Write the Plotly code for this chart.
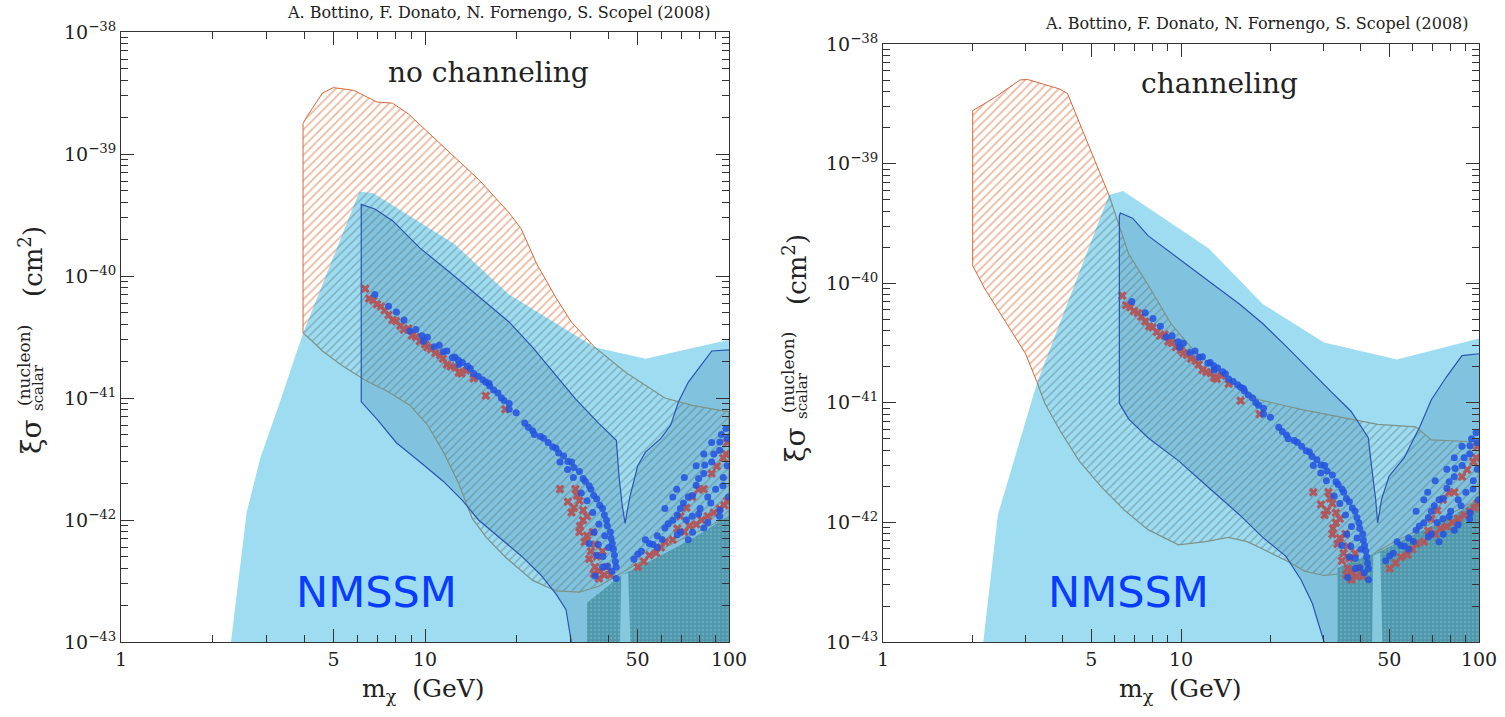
import plotly.graph_objects as go

W, H = 1505, 717

# ---------------- data: left panel (no channeling) ----------------
lb_l_m = [2.30, 2.59, 2.87, 3.32, 3.97, 6.08, 6.75, 12.5, 18.9, 36.2, 53.1, 100, 100]
lb_l_s = [1e-43, 1.15e-42, 3.2e-42, 9.0e-42, 3.4e-41, 4.9e-40, 4.8e-40, 1.83e-40, 7.05e-41, 2.6e-41, 2.1e-41, 3.0e-41, 1e-43]

orange_l_m = [3.97, 3.97, 4.09, 4.60, 4.99, 5.82, 6.95, 7.82, 8.80, 10.5, 12.2, 15.0, 18.9, 20.7, 23.3, 27.0, 30.3, 36.2, 18.9, 12.5, 6.75, 6.08]
orange_l_s = [3.4e-41, 1.78e-39, 2.03e-39, 3.16e-39, 3.5e-39, 3.33e-39, 2.67e-39, 2.61e-39, 2.14e-39, 1.43e-39, 1.0e-39, 6.2e-40, 3.3e-40, 2.45e-40, 1.26e-40, 6.6e-41, 4.2e-41, 2.6e-41, 7.05e-41, 1.83e-40, 4.8e-40, 4.9e-40]

grey_l_m = [3.97, 6.08, 6.75, 12.5, 18.9, 36.2, 45.8, 61.5, 75.7, 100, 100, 61.5, 44.5, 37.3, 32.2, 27.0, 22.6, 18.4, 15.9, 14.3, 12.9, 11.5, 10.2, 8.93, 7.59, 6.36, 5.33, 4.6, 4.21]
grey_l_s = [3.4e-41, 4.9e-40, 4.8e-40, 1.83e-40, 7.05e-41, 2.6e-41, 1.62e-41, 1.0e-41, 8.7e-42, 7.7e-42, 1.07e-42, 5.96e-43, 3.7e-43, 2.86e-43, 2.56e-43, 2.62e-43, 3.2e-43, 4.95e-43, 7.2e-43, 1.03e-42, 2.0e-42, 3.6e-42, 6.0e-42, 8.7e-42, 1.12e-41, 1.4e-41, 1.85e-41, 2.43e-41, 3.0e-41]

outline_l_m = [6.17, 6.84, 7.82, 9.61, 12.2, 15.4, 18.9, 22.6, 27.0, 31.3, 37.3, 42.6, 43.5, 44.5, 45.5, 47.2, 50.1, 53.1, 59.7, 64.3,
               68.2, 73.5, 80.3, 87.8, 100, 100, 30.3, 29.1, 27.0, 24.0, 20.7, 17.3, 15.0, 13.3, 11.5, 9.61, 8.05, 6.95, 6.17]
outline_l_s = [3.86e-40, 3.54e-40, 2.84e-40, 1.70e-40, 1.05e-40, 6.5e-41, 4.2e-41, 2.6e-41, 1.51e-41, 9.8e-42, 6.2e-42, 4.5e-42, 2.24e-42,
               1.34e-42, 9.4e-43, 1.55e-42, 2.78e-42, 3.6e-42, 4.66e-42, 6.0e-42, 9.3e-42, 1.35e-41, 1.81e-41, 2.43e-41, 2.48e-41,
               1e-43, 1e-43, 1.84e-43, 2.47e-43, 3.56e-43, 5.1e-43, 7.4e-43, 1.0e-42, 1.44e-42, 2.07e-42, 3.0e-42, 4.3e-42, 6.7e-42, 9.3e-42]

teal_l_m = [34.1, 34.1, 38.4, 44.5, 53.1, 67.3, 82.7, 100, 100]
teal_l_s = [1e-43, 2.1e-43, 2.65e-43, 3.56e-43, 4.4e-43, 6.0e-43, 8.0e-43, 1.09e-42, 1e-43]

gap_l_m = [43.8, 44.2, 46.6, 47.4]
gap_l_s = [1e-43, 3.5e-43, 3.7e-43, 1e-43]

# ---------------- data: right panel (channeling) ----------------
lb_r_m = [2.17, 2.43, 2.75, 3.29, 5.73, 6.39, 12.4, 18.8, 30.2, 53.0, 100, 100]
lb_r_s = [1e-43, 1.16e-42, 3.27e-42, 1.48e-41, 5.47e-40, 5.9e-40, 1.95e-40, 6.7e-41, 3.2e-41, 2.3e-41, 3.45e-41, 1e-43]

orange_r_m = [3.29, 5.73, 5.36, 4.90, 4.55, 4.16, 3.92, 3.05, 2.88, 2.37, 2.00, 2.00, 2.20, 2.59, 3.01]
orange_r_s = [1.48e-41, 5.47e-40, 8.2e-40, 1.42e-39, 2.29e-39, 3.85e-39, 4.2e-39, 5.06e-39, 5.0e-39, 3.57e-39, 2.77e-39, 1.40e-40, 8.9e-41, 4.6e-41, 2.57e-41]

grey_r_m = [3.29, 5.73, 6.68, 7.75, 9.25, 11.0, 14.0, 18.3, 25.3, 37.2, 45.7, 61.4, 69.2, 100, 100, 49.9, 34.0, 30.2, 26.1, 22.5,
            18.8, 16.7, 14.4, 12.1, 9.8, 7.75, 6.49, 5.43, 4.55, 3.92, 3.49]
grey_r_s = [1.48e-41, 5.47e-40, 1.75e-40, 9.7e-41, 4.6e-41, 2.77e-41, 1.65e-41, 1.06e-41, 8.8e-42, 7.3e-42, 6.6e-42, 6.3e-42, 4.9e-42,
            4.7e-42, 1.56e-42, 6.5e-43, 3.7e-43, 3.6e-43, 3.9e-43, 4.8e-43, 6.0e-43, 6.9e-43, 7.5e-43, 6.9e-43, 6.5e-43, 8.7e-43,
            1.25e-42, 1.95e-42, 3.27e-42, 5.9e-42, 9.9e-42]

outline_r_m = [6.26, 6.88, 7.75, 9.82, 12.4, 15.7, 18.8, 22.5, 26.8, 32.0, 37.2, 42.5, 43.7, 45.0, 45.7, 47.1, 49.9, 56.2, 63.3, 69.2,
               77.8, 87.7, 100, 100, 30.2, 27.6, 25.3, 22.5, 18.8, 15.7, 12.4, 9.82, 7.75, 6.68, 6.21, 6.21]
outline_r_s = [3.86e-40, 3.5e-40, 2.5e-40, 1.62e-40, 1.04e-40, 6.7e-41, 4.6e-41, 2.98e-41, 1.91e-41, 1.23e-41, 8.5e-42, 5.1e-42, 2.8e-42,
               1.56e-42, 9.9e-43, 1.56e-42, 2.43e-42, 3.5e-42, 6.3e-42, 1.06e-41, 1.65e-41, 2.48e-41, 2.57e-41, 1e-43, 1e-43, 2.1e-43,
               3.3e-43, 5.2e-43, 7.5e-43, 1.16e-42, 1.95e-42, 3.27e-42, 5.1e-42, 7.3e-42, 9.9e-42, 3.65e-40]

teal_r_m = [33.5, 33.5, 38.3, 45.7, 51.5, 65.2, 82.6, 100, 100]
teal_r_s = [1e-43, 4.15e-43, 4.8e-43, 5.6e-43, 6.5e-43, 8.7e-43, 1.16e-42, 1.56e-42, 1e-43]

gap_r_m = [43.8, 44.2, 46.6, 47.4]
gap_r_s = [1e-43, 5.3e-43, 5.6e-43, 1e-43]

# ---------------- NMSSM scan points (same in both panels), log10 values ----------------
blue_log_m = [0.835, 0.880, 0.906, 0.931, 0.970, 1.008, 1.047, 1.072, 1.098, 1.123, 1.149, 1.175, 1.200, 1.226, 1.251, 1.277,
              1.328, 1.354, 1.380, 1.405, 1.431, 1.456, 1.482, 1.508, 1.527, 1.546, 1.565, 1.584, 1.597, 1.610, 1.616, 1.623,
              1.629, 1.604, 1.591, 1.572, 1.552, 1.533, 1.514, 1.488, 1.469, 1.444, 1.277, 1.213, 1.111, 0.995, 1.629, 1.584,
              1.565, 1.540,
              0.95, 0.99, 1.03, 1.06, 1.09, 1.11, 1.14, 1.16, 1.19, 1.21, 1.24, 1.26, 1.30, 1.34, 1.36, 1.39, 1.42, 1.44,
              1.47, 1.49, 1.52, 1.54, 1.555, 1.575, 1.59, 1.60, 1.612, 1.62, 1.626, 1.615, 1.60, 1.585, 1.57, 1.556, 1.56,
              1.687, 1.712, 1.738, 1.764, 1.789, 1.815, 1.840, 1.866, 1.892, 1.917, 1.943, 1.969, 1.994, 1.853, 1.892, 1.917,
              1.943, 1.975, 1.828, 1.879, 1.930, 1.981, 1.840, 1.905, 1.956, 1.994, 1.789, 1.815, 1.969, 1.917, 1.866, 1.998,
              1.764, 1.725,
              1.70, 1.75, 1.78, 1.80, 1.83, 1.85, 1.88, 1.90, 1.92, 1.95, 1.97, 1.99, 1.86, 1.90, 1.94, 1.98, 1.93, 1.97,
              1.88, 1.83]
blue_log_s = [-40.152, -40.248, -40.296, -40.360, -40.439, -40.503, -40.567, -40.615, -40.663, -40.710, -40.758, -40.822, -40.870,
              -40.934, -40.997, -41.045, -41.205, -41.269, -41.316, -41.364, -41.412, -41.476, -41.524, -41.603, -41.683, -41.747,
              -41.827, -41.906, -42.002, -42.098, -42.193, -42.289, -42.385, -42.225, -42.130, -42.034, -41.938, -41.843, -41.779,
              -41.651, -41.587, -41.524, -41.093, -40.902, -40.726, -40.535, -42.480, -42.385, -42.289, -42.193,
              -40.45, -40.49, -40.58, -40.62, -40.67, -40.69, -40.74, -40.80, -40.85, -40.88, -40.96, -41.02, -41.12, -41.24,
              -41.30, -41.33, -41.40, -41.45, -41.52, -41.57, -41.66, -41.72, -41.80, -41.88, -41.96, -42.05, -42.15, -42.24,
              -42.34, -42.42, -42.38, -42.30, -42.20, -42.10, -42.46,
              -42.321, -42.257, -42.193, -42.130, -42.066, -42.002, -41.906, -41.811, -41.715, -41.619, -41.524, -41.428, -41.332,
              -41.651, -41.556, -41.460, -41.364, -41.300, -41.747, -41.970, -41.811, -41.651, -42.098, -41.906, -41.747, -41.556,
              -41.906, -41.811, -41.970, -42.066, -42.161, -41.811, -42.225, -42.161,
              -42.28, -42.20, -42.16, -42.03, -41.96, -41.86, -41.80, -41.66, -41.55, -41.46, -41.36, -41.25, -42.00, -41.95,
              -41.86, -41.72, -42.02, -41.92, -42.10, -42.12]
red_log_m = [0.803, 0.816, 0.842, 0.867, 0.893, 0.919, 0.957, 0.983, 1.008, 1.034, 1.059, 1.085, 1.111, 1.136, 1.072, 1.200,
             1.264, 1.444, 1.482, 1.508, 1.520, 1.533, 1.546, 1.559, 1.572, 1.584, 1.597, 1.533, 1.508, 1.610, 1.552, 1.495,
             0.83, 0.855, 0.88, 0.905, 0.93, 0.945, 0.97, 1.00, 1.02, 1.05, 1.10, 1.12, 1.16, 1.47, 1.49, 1.51, 1.525, 1.54,
             1.555, 1.565, 1.575, 1.59, 1.52, 1.50, 1.56,
             1.700, 1.738, 1.776, 1.815, 1.853, 1.892, 1.930, 1.969, 1.994, 1.879, 1.943, 1.981, 1.840, 1.917, 1.994,
             1.72, 1.76, 1.79, 1.83, 1.87, 1.91, 1.95, 1.985, 1.90, 1.96, 1.99, 1.86]
red_log_s = [-40.105, -40.184, -40.232, -40.280, -40.360, -40.408, -40.487, -40.535, -40.583, -40.631, -40.679, -40.742, -40.790,
             -40.774, -40.726, -40.982, -41.093, -41.747, -41.938, -41.843, -42.002, -42.130, -42.257, -42.385, -42.480, -42.257,
             -42.385, -41.970, -42.098, -42.448, -42.098, -41.747,
             -40.20, -40.25, -40.32, -40.37, -40.44, -40.43, -40.50, -40.56, -40.60, -40.65, -40.75, -40.80, -40.84, -41.85,
             -41.90, -42.05, -42.18, -42.32, -42.44, -42.30, -42.42, -42.45, -41.92, -41.80, -42.20,
             -42.385, -42.289, -42.225, -42.161, -42.098, -42.034, -41.970, -41.906, -41.843, -41.811, -41.619, -41.492, -41.970,
             -41.747, -41.364,
             -42.34, -42.27, -42.18, -42.07, -42.05, -42.00, -41.94, -41.88, -41.75, -41.56, -41.46, -41.90]

# ---------------- axes ticks ----------------
x_tick_vals = [1, 5, 10, 50, 100]
x_tick_text = ["1", "5", "10", "50", "100"]
x_minor_vals = [2, 3, 4, 6, 7, 8, 9, 20, 30, 40, 60, 70, 80, 90]
y_exps = [-43, -42, -41, -40, -39, -38]
y_tick_vals = [10.0 ** e for e in y_exps]
y_tick_text = ["10<sup>\u2212%d</sup>" % (-e) for e in y_exps]
y_minor_vals = [k * 10.0 ** e for e in range(-43, -38) for k in range(2, 10)]

LIGHT = "#9edcf2"
OUTLINE_FILL = "rgba(45,125,170,0.26)"
OUTLINE_LINE = "#2a55b0"
TEAL = "#4f97ac"

fig = go.Figure()


def closed(a):
    return list(a) + [a[0]]


def poly(m, s, xa, ya, fillcolor=None, pattern=None):
    kw = dict(x=closed(m), y=closed(s), fill="toself", mode="lines", line=dict(width=0),
              xaxis=xa, yaxis=ya, hoverinfo="skip", showlegend=False)
    if pattern is not None:
        kw["fillpattern"] = pattern
        kw["fillcolor"] = pattern.get("bgcolor", "rgba(0,0,0,0)")
    else:
        kw["fillcolor"] = fillcolor
    fig.add_trace(go.Scatter(**kw))


def line(m, s, xa, ya, color, width=1.0):
    fig.add_trace(go.Scatter(x=m, y=s, mode="lines", line=dict(color=color, width=width),
                             xaxis=xa, yaxis=ya, hoverinfo="skip", showlegend=False))


panels = [
    dict(xa="x", ya="y", lb=(lb_l_m, lb_l_s), orange=(orange_l_m, orange_l_s), orange_line=(0, 18),
         grey=(grey_l_m, grey_l_s), grey_start=5, outline=(outline_l_m, outline_l_s), o_split=(25, 26),
         teal=(teal_l_m, teal_l_s), gap=(gap_l_m, gap_l_s)),
    dict(xa="x2", ya="y2", lb=(lb_r_m, lb_r_s), orange=(orange_r_m, orange_r_s), orange_line=None,
         grey=(grey_r_m, grey_r_s), grey_start=1, outline=(outline_r_m, outline_r_s), o_split=(23, 24),
         teal=(teal_r_m, teal_r_s), gap=(gap_r_m, gap_r_s)),
]

orange_pat = dict(shape="/", fgcolor="#d8703f", bgcolor="rgba(255,255,255,0)", size=6, solidity=0.28)
grey_pat = dict(shape="/", fgcolor="rgba(80,98,92,0.8)", bgcolor="rgba(0,0,0,0)", size=6, solidity=0.24)
teal_pat = dict(shape=".", fgcolor="#7dbccc", bgcolor=TEAL, size=4, solidity=0.3)

for p in panels:
    xa, ya = p["xa"], p["ya"]
    poly(*p["lb"], xa, ya, fillcolor=LIGHT)
    om, os_ = p["outline"]
    poly(om, os_, xa, ya, fillcolor=OUTLINE_FILL)
    gm, gs = p["grey"]
    poly(gm, gs, xa, ya, pattern=grey_pat)
    k = p["grey_start"]
    line(gm[k:] + gm[:1], gs[k:] + gs[:1], xa, ya, "#7d9388", 1.2)
    rm, rs = p["orange"]
    poly(rm, rs, xa, ya, pattern=orange_pat)
    if p["orange_line"] is not None:
        a, b = p["orange_line"]
        line(rm[a:b], rs[a:b], xa, ya, "#d46a3c", 1.0)
    else:
        line(rm[1:] + rm[:1], rs[1:] + rs[:1], xa, ya, "#d46a3c", 1.0)
    poly(*p["teal"], xa, ya, pattern=teal_pat)
    poly(*p["gap"], xa, ya, fillcolor="#86c9dd")
    fig.add_trace(go.Scatter(x=[10 ** v for v in red_log_m], y=[10 ** v for v in red_log_s], mode="markers",
                             marker=dict(symbol="x", size=8, color="#b0585c", line=dict(width=0)),
                             xaxis=xa, yaxis=ya, hoverinfo="skip", showlegend=False))
    fig.add_trace(go.Scatter(x=[10 ** v for v in blue_log_m], y=[10 ** v for v in blue_log_s], mode="markers",
                             marker=dict(symbol="circle", size=7, color="#2352e0", opacity=0.85),
                             xaxis=xa, yaxis=ya, hoverinfo="skip", showlegend=False))
    a, b = p["o_split"]
    line(om[b:] + om[:a], os_[b:] + os_[:a], xa, ya, OUTLINE_LINE, 1.2)

tickfont = dict(family="DejaVu Serif", size=19, color="#222")


def xaxis(domain, anchor):
    return dict(type="log", range=[0, 2], domain=domain, anchor=anchor, showline=True, linecolor="#333",
                linewidth=1, mirror="allticks", ticks="inside", ticklen=13, tickcolor="#333", automargin=False,
                tickvals=x_tick_vals, ticktext=x_tick_text,
                minor=dict(tickvals=x_minor_vals, ticks="inside", ticklen=7, tickcolor="#333", showgrid=False),
                showgrid=False, zeroline=False, tickfont=tickfont)


def yaxis(domain, anchor):
    return dict(type="log", range=[-43, -38], domain=domain, anchor=anchor, showline=True, linecolor="#333",
                linewidth=1, mirror="allticks", ticks="inside", ticklen=13, tickcolor="#333", automargin=False,
                tickvals=y_tick_vals, ticktext=y_tick_text,
                minor=dict(tickvals=y_minor_vals, ticks="inside", ticklen=7, tickcolor="#333", showgrid=False),
                showgrid=False, zeroline=False, tickfont=tickfont)


fig.update_layout(
    width=W, height=H, margin=dict(l=0, r=0, t=0, b=0, autoexpand=False),
    paper_bgcolor="white", plot_bgcolor="white",
    xaxis=xaxis([121 / W, 729 / W], "y"),
    yaxis=yaxis([1 - 642 / H, 1 - 32 / H], "x"),
    xaxis2=xaxis([883 / W, 1479 / W], "y2"),
    yaxis2=yaxis([1 - 642 / H, 1 - 44 / H], "x2"),
)


def ann(text, x, y, size, family="DejaVu Serif", color="#222", angle=0, xanchor="center"):
    fig.add_annotation(text=text, x=x / W, y=1 - y / H, xref="paper", yref="paper", showarrow=False,
                       font=dict(family=family, size=size, color=color), textangle=angle,
                       xanchor=xanchor, yanchor="middle")


authors = "A. Bottino, F. Donato, N. Fornengo, S. Scopel (2008)"
ann(authors, 713, 12, 16, xanchor="right")
ann(authors, 1471, 24, 16, xanchor="right")
ann("no channeling", 488, 72, 28)
ann("channeling", 1219, 83, 28)
ann("NMSSM", 376, 592, 43, family="DejaVu Sans", color="#0a3cff")
ann("NMSSM", 1128, 592, 43, family="DejaVu Sans", color="#0a3cff")
ann("m<sub>\u03c7</sub>  (GeV)", 424, 690, 25)
ann("m<sub>\u03c7</sub>  (GeV)", 1180, 690, 25)

for dx, dy in [(0, 0), (764, 8)]:
    ann("\u03be\u03c3", 31 + dx, 437 + dy, 28, angle=-90)
    ann("(nucleon)", 24 + dx, 365 + dy, 17, angle=-90)
    ann("scalar", 38 + dx, 388 + dy, 15, angle=-90)
    ann("(cm<sup>2</sup>)", 31 + dx, 262 + dy, 26, angle=-90)

fig.write_html("out.html")
